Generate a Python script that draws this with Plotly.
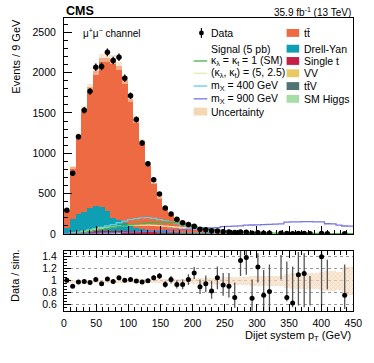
import numpy as np
import plotly.graph_objects as go

# ---------------- data ----------------
bin_edges = list(range(0, 451, 9))          # 9 GeV bins, 0-450 GeV
bin_centers = [e + 4.5 for e in bin_edges[:-1]]

data_counts = [295, 754, 1205, 1534, 1768, 2066, 2075, 2251, 2149, 2189,
               1931, 1713, 1418, 1128, 870, 673, 496, 324, 250, 185,
               140, 119, 98, 61, 53, 41, 38, 30, 26, 18,
               25, 22, 11, 16, 10, 10, None, 11, 6, 5,
               8, 7, 4, None, 8, 5, None, None, 3, None]

bkg_tt = [215, 643, 980, 1267, 1500, 1672, 1848, 1890, 1961, 1905,
          1772, 1582, 1351, 1090, 816, 594, 418, 309, 214, 171,
          126, 97, 70, 53, 42, 37, 25.5, 22.6, 20.6, 17.4,
          12, 9.6, 9.7, 7.7, 8.2, 7.6, 6.5, 6, 5, 4.8,
          4.5, 4.2, 4, 3.7, 3.5, 3.3, 3.1, 2.9, 2.7, 2.5]
bkg_dy = [69, 170, 228, 254, 288, 315, 295, 251, 164, 135,
          95, 55, 32, 22, 18, 15, 13, 11, 10, 9,
          8, 7, 6, 5.5, 5, 4.5, 4, 3.5, 3.2, 3,
          2.8, 2.6, 2.4, 2.2, 2, 1.8, 1.7, 1.6, 1.5, 1.4,
          1.3, 1.2, 1.1, 1.0, 1.0, 0.9, 0.9, 0.8, 0.8, 0.7]
bkg_singlet = [5, 10, 15, 20, 24, 27, 30, 32, 33, 34,
               34, 33, 32, 30, 28, 25, 22, 19, 16, 13,
               11, 9, 8, 7, 6, 5, 4.5, 4, 3.5, 3,
               2.8, 2.5, 2.2, 2, 1.8, 1.6, 1.5, 1.4, 1.3, 1.2,
               1.1, 1, 0.9, 0.8, 0.8, 0.7, 0.7, 0.6, 0.6, 0.5]
bkg_vv = [2, 4, 5, 6, 7, 7, 7, 7, 7, 6.5,
          6, 6, 5.5, 5, 4.5, 4, 3.6, 3.2, 2.8, 2.5,
          2.2, 2, 1.8, 1.6, 1.4, 1.3, 1.2, 1.1, 1, 0.9,
          0.8, 0.8, 0.7, 0.7, 0.6, 0.6, 0.5, 0.5, 0.5, 0.4,
          0.4, 0.4, 0.3, 0.3, 0.3, 0.3, 0.3, 0.2, 0.2, 0.2]
bkg_ttv = [0.5, 1, 1.5, 2, 2.5, 3, 3, 3.2, 3.3, 3.3,
           3.2, 3, 2.9, 2.7, 2.5, 2.2, 2, 1.8, 1.6, 1.4,
           1.2, 1.1, 1, 0.9, 0.8, 0.7, 0.6, 0.6, 0.5, 0.5,
           0.4, 0.4, 0.4, 0.3, 0.3, 0.3, 0.3, 0.3, 0.2, 0.2,
           0.2, 0.2, 0.2, 0.2, 0.2, 0.1, 0.1, 0.1, 0.1, 0.1]
bkg_higgs = [0.3, 0.5, 0.8, 1, 1.2, 1.3, 1.4, 1.4, 1.4, 1.4,
             1.3, 1.3, 1.2, 1.1, 1, 0.9, 0.8, 0.7, 0.6, 0.5,
             0.5, 0.4, 0.4, 0.3, 0.3, 0.3, 0.2, 0.2, 0.2, 0.2,
             0.2, 0.1, 0.1, 0.1, 0.1, 0.1, 0.1, 0.1, 0.1, 0.1,
             0.1, 0.1, 0.1, 0.1, 0.1, 0.1, 0.1, 0.1, 0.1, 0.1]

sig_sm = [3, 8, 15, 25, 35, 48, 60, 72, 85, 95,
          105, 115, 122, 130, 138, 143, 146, 147, 145, 138,
          127, 112, 95, 80, 68, 58, 50, 43, 37, 32,
          27, 23, 20, 17, 15, 13, 12, 11, 10, 9,
          8.5, 8, 7.5, 7, 6.5, 6, 5.5, 5, 5, 4.5]
sig_kl5 = [4, 10, 20, 32, 45, 58, 70, 80, 90, 98,
           104, 108, 110, 111, 110, 108, 104, 99, 93, 86,
           78, 70, 62, 54, 47, 41, 36, 31, 27, 24,
           21, 18, 16, 14, 12, 11, 10, 9, 8, 7,
           6.5, 6, 5.5, 5, 4.5, 4, 4, 3.5, 3.5, 3]
sig_m400 = [2, 8, 18, 32, 48, 65, 82, 100, 118, 140,
            160, 178, 192, 200, 203, 195, 180, 163, 147, 130,
            112, 92, 75, 60, 46, 33, 24, 17, 12, 8,
            6, 5, 4, 3, 2.5, 2, 1.6, 1.3, 1.1, 1,
            0.8, 0.7, 0.6, 0.5, 0.5, 0.4, 0.4, 0.3, 0.3, 0.3]
sig_m900 = [1, 2, 3, 5, 7, 9, 11, 13, 15, 18,
            20, 23, 26, 29, 33, 36, 40, 44, 48, 52,
            56, 60, 64, 68, 72, 76, 80, 92, 95, 98,
            102, 110, 112, 115, 118, 120, 122, 125, 148, 150,
            152, 153, 153, 152, 150, 128, 125, 110, 100, 98]

# relative uncertainty of the simulation (half width)
mc_rel_unc = [0.025, 0.025, 0.025, 0.025, 0.025, 0.025, 0.025, 0.025, 0.025, 0.025,
              0.025, 0.025, 0.03, 0.03, 0.03, 0.03, 0.035, 0.035, 0.04, 0.04,
              0.04, 0.045, 0.045, 0.05, 0.05, 0.05, 0.06, 0.065, 0.065, 0.07,
              0.07, 0.07, 0.08, 0.08, 0.08, 0.09, 0.09, 0.09, 0.12, 0.13,
              0.13, 0.14, 0.14, 0.14, 0.15, 0.16, 0.16, 0.15, 0.24, 0.24]

# data / simulation ratio
ratio_vals = [1.01, 0.91, 0.98, 0.99, 0.97, 1.02, 0.95, 1.03, 0.99, 1.05,
              1.01, 1.02, 0.995, 0.98, 1.00, 1.05, 1.08, 0.94, 1.02, 0.94,
              0.94, 1.02, 1.13, 0.90, 0.95, 0.83, 1.05, 0.93, 0.91, 0.72,
              1.34, 1.39, 0.71, 1.23, 0.76, 0.82, None, None, 0.72, 0.63,
              1.10, 1.12, None, None, 1.40, None, None, None, 0.76, None]
ratio_err_up = [0.03, 0.03, 0.025, 0.025, 0.025, 0.025, 0.025, 0.025, 0.025, 0.025,
                0.025, 0.025, 0.03, 0.03, 0.035, 0.04, 0.05, 0.055, 0.065, 0.07,
                0.08, 0.09, 0.10, 0.12, 0.14, 0.17, 0.19, 0.20, 0.22, 0.25,
                0.25, 0.25, 0.31, 0.23, 0.42, 0.45, 0, 0, 0.60, 0.61,
                0.38, 0.34, 0, 0, 0.20, 0, 0, 0, 0.51, 0]
ratio_err_dn = [0.03, 0.03, 0.025, 0.025, 0.025, 0.025, 0.025, 0.025, 0.025, 0.025,
                0.025, 0.025, 0.03, 0.03, 0.035, 0.04, 0.05, 0.055, 0.065, 0.07,
                0.08, 0.09, 0.10, 0.12, 0.14, 0.13, 0.19, 0.18, 0.19, 0.17,
                0.26, 0.29, 0.23, 0.26, 0.28, 0.31, 0, 0, 0.06, 0.07,
                0.51, 0.56, 0, 0, 0.81, 0, 0, 0, 0.23, 0]
# bins where only an error bar (no marker) is visible in the ratio
ratio_bar_only_bins = [37, 42, 45]
ratio_bar_only_lo = [1.02, 0.59, 0.86]
ratio_bar_only_hi = [1.43, 1.08, 1.35]

# ---------------- styling ----------------
W, H = 374, 363
FONT = "Liberation Sans, Arial, sans-serif"
C_TT = "#ee6a43"
C_DY = "#0f9fb4"
C_ST = "#c41f45"
C_VV = "#ebc866"
C_TTV = "#4f7472"
C_H = "#a6dca6"
C_SM = "#46b446"
C_KL5 = "#efe6b6"
C_M400 = "#5fcfe2"
C_M900 = "#7575e4"
C_UNC = "#e9b888"


def px(x):
    return x / W


def py(y):
    return 1 - y / H


fig = go.Figure()

# stacked backgrounds (bottom -> top)
stack = [("SM Higgs", bkg_higgs, C_H), ("ttV", bkg_ttv, C_TTV), ("VV", bkg_vv, C_VV),
         ("Single t", bkg_singlet, C_ST), ("Drell-Yan", bkg_dy, C_DY), ("tt", bkg_tt, C_TT)]
base = np.zeros(len(bin_centers))
for name, vals, col in stack:
    v = np.array(vals, dtype=float)
    fig.add_trace(go.Bar(x=bin_centers, y=v, base=base.copy(), width=9,
                         marker=dict(color=col, line=dict(width=0)),
                         xaxis="x", yaxis="y", name=name))
    base = base + v
total_mc = base

# uncertainty band on top of the stack
unc = total_mc * np.array(mc_rel_unc)
fig.add_trace(go.Bar(x=bin_centers, y=2 * unc, base=total_mc - unc, width=9,
                     marker=dict(color="rgba(248,222,196,0.55)", line=dict(width=0),
                                 pattern=dict(shape="x", fgcolor=C_UNC, size=3,
                                              solidity=0.35, fillmode="overlay")),
                     xaxis="x", yaxis="y"))

# signal step lines
step_x = bin_edges
for vals, col in [(sig_m400, C_M400), (sig_kl5, C_KL5), (sig_sm, C_SM), (sig_m900, C_M900)]:
    fig.add_trace(go.Scatter(x=step_x, y=list(vals) + [vals[-1]], mode="lines",
                             line=dict(color=col, width=1.3, shape="hv"),
                             xaxis="x", yaxis="y"))

# data points
d = np.array([np.nan if v is None else v for v in data_counts], dtype=float)
fig.add_trace(go.Scatter(x=bin_centers, y=d, mode="markers",
                         marker=dict(color="black", size=5.5),
                         error_y=dict(type="data", array=np.sqrt(np.nan_to_num(d)),
                                      color="black", thickness=1.3, width=0),
                         xaxis="x", yaxis="y"))

# ---------------- ratio panel ----------------
ru = np.array(mc_rel_unc)
fig.add_trace(go.Bar(x=bin_centers, y=2 * ru, base=1 - ru, width=9,
                     marker=dict(color="rgba(248,222,196,0.6)", line=dict(width=0),
                                 pattern=dict(shape="x", fgcolor=C_UNC, size=3,
                                              solidity=0.35, fillmode="overlay")),
                     xaxis="x2", yaxis="y2"))

bx, by = [], []
for b, lo, hi in zip(ratio_bar_only_bins, ratio_bar_only_lo, ratio_bar_only_hi):
    bx += [bin_centers[b], bin_centers[b], None]
    by += [lo, hi, None]
fig.add_trace(go.Scatter(x=bx, y=by, mode="lines", line=dict(color="#555555", width=1.3),
                         xaxis="x2", yaxis="y2"))

r = np.array([np.nan if v is None else v for v in ratio_vals], dtype=float)
fig.add_trace(go.Scatter(x=bin_centers, y=r, mode="markers",
                         marker=dict(color="black", size=5),
                         error_y=dict(type="data", symmetric=False, array=ratio_err_up,
                                      arrayminus=ratio_err_dn, color="#555555",
                                      thickness=1.3, width=0),
                         xaxis="x2", yaxis="y2", cliponaxis=True))

# ---------------- layout ----------------
xdom = [px(63), px(362)]
axis_common = dict(showline=True, linecolor="black", linewidth=1, zeroline=False,
                   showgrid=False, tickcolor="black",
                   tickfont=dict(family=FONT, size=10.5, color="black"))

fig.update_layout(
    width=W, height=H, margin=dict(l=0, r=0, t=0, b=0),
    paper_bgcolor="white", plot_bgcolor="white",
    barmode="overlay", bargap=0, showlegend=False, hovermode=False,
    font=dict(family=FONT, size=10.5, color="black"),
    xaxis=dict(domain=xdom, anchor="y", range=[0, 450], ticks="inside", dtick=50,
               ticklen=8, minor=dict(ticks="inside", dtick=10, ticklen=4, tickcolor="black"),
               showticklabels=False, mirror=True, **axis_common),
    yaxis=dict(domain=[py(238), py(18)], anchor="x", range=[0, 2680], ticks="inside",
               dtick=500, ticklen=8, ticklabelstandoff=5,
               minor=dict(ticks="inside", dtick=100, ticklen=4, tickcolor="black"),
               mirror=True, **axis_common),
    xaxis2=dict(domain=xdom, anchor="y2", range=[0, 450], ticks="inside", dtick=50,
                ticklen=7, ticklabelstandoff=3,
                minor=dict(ticks="inside", dtick=10, ticklen=4, tickcolor="black"),
                mirror="ticks", **axis_common),
    yaxis2=dict(domain=[py(316), py(255)], anchor="x2", range=[0.5, 1.5], ticks="inside",
                tickvals=[0.6, 0.8, 1.0, 1.2, 1.4], ticktext=["0.6", "0.8", "1", "1.2", "1.4"],
                ticklen=7, ticklabelstandoff=4,
                minor=dict(ticks="inside", dtick=0.05, ticklen=3.5, tickcolor="black"),
                mirror=True, showline=True, linecolor="black", linewidth=1, zeroline=False,
                tickcolor="black", tickfont=dict(family=FONT, size=10.5, color="black"),
                showgrid=True, gridcolor="#9a9a9a", gridwidth=1, griddash="dot"),
)

ann = []
shapes = []


def text(x, y, s, size=10.5, anchor="left", bold=False, angle=0, h=None):
    a = dict(x=px(x), y=py(y), xref="paper", yref="paper", text=s,
             showarrow=False, xanchor=anchor, yanchor="middle", textangle=angle,
             font=dict(family=FONT, size=size, color="black",
                       weight="bold" if bold else "normal"))
    if h is not None:
        a["height"] = h
        a["valign"] = "middle"
    ann.append(a)


text(63, 11, "CMS", size=12.5, bold=True)
text(362, 12, "35.9 fb<sup>-1</sup> (13 TeV)", size=10, anchor="right")
text(81, 34, "μ<sup>+</sup>μ<sup>−</sup> channel", size=10)
text(13, 57, "Events / 9 GeV", size=11, anchor="center", angle=-90)
text(13, 280, "Data / sim.", size=11, anchor="center", angle=-90)
text(362, 342, "Dijet system p<sub>T</sub> (GeV)", size=11, anchor="right")

# legend, left column
rows_l = [33.5, 49.5, 62, 74.5, 87.5, 100.5, 113.5]
lx_t = 213
text(lx_t, rows_l[0], "Data")
shapes.append(dict(type="circle", xref="paper", yref="paper",
                   x0=px(202.5), x1=px(207.5), y0=py(rows_l[0] + 2.5), y1=py(rows_l[0] - 2.5),
                   fillcolor="black", line=dict(width=0)))
shapes.append(dict(type="line", xref="paper", yref="paper",
                   x0=px(205), x1=px(205), y0=py(rows_l[0] + 5), y1=py(rows_l[0] - 5),
                   line=dict(color="black", width=1.2)))
text(lx_t, rows_l[1], "Signal (5 pb)")
leg_lines = [("κ<sub>λ</sub> = κ<sub>t</sub> = 1 (SM)", C_SM),
             ("(κ<sub>λ</sub>, κ<sub>t</sub>) = (5, 2.5)", C_KL5),
             ("m<sub>X</sub> = 400 GeV", C_M400),
             ("m<sub>X</sub> = 900 GeV", C_M900)]
for (lab, col), yy in zip(leg_lines, rows_l[2:6]):
    shapes.append(dict(type="line", xref="paper", yref="paper",
                       x0=px(197), x1=px(211), y0=py(yy), y1=py(yy),
                       line=dict(color=col, width=1.3)))
    text(lx_t, yy, lab, h=12)
shapes.append(dict(type="rect", xref="paper", yref="paper",
                   x0=px(197), x1=px(211), y0=py(rows_l[6] + 4), y1=py(rows_l[6] - 4),
                   fillcolor="#f5d7b4", line=dict(width=0)))
text(lx_t, rows_l[6], "Uncertainty")

# legend, right column
rows_r = [33.5, 49.5, 62, 74.5, 87.5, 100.5]
leg_boxes = [("tt\u0304", C_TT), ("Drell-Yan", C_DY), ("Single t", C_ST),
             ("VV", C_VV), ("tt\u0304V", C_TTV), ("SM Higgs", C_H)]
for (lab, col), yy in zip(leg_boxes, rows_r):
    shapes.append(dict(type="rect", xref="paper", yref="paper",
                       x0=px(293), x1=px(306), y0=py(yy + 4), y1=py(yy - 4),
                       fillcolor=col, line=dict(width=0)))
    text(308.5, yy, lab)

fig.update_layout(annotations=ann, shapes=shapes)

fig.write_html("out.html", config={"displayModeBar": False},
               post_script="document.body.style.margin='0';")
